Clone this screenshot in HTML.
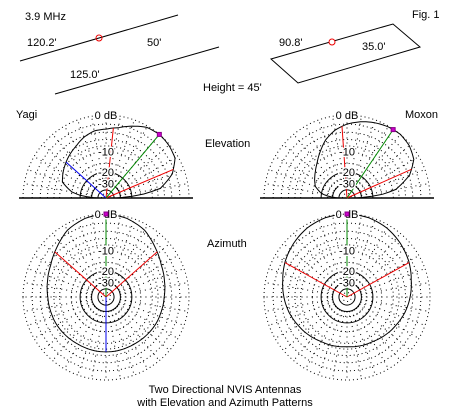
<!DOCTYPE html>
<html><head><meta charset="utf-8"><style>
body{margin:0;background:#fff}
svg{display:block;font-family:"Liberation Sans",Arial,sans-serif;font-size:11px}
</style></head><body>
<svg id="fig" width="450" height="420" viewBox="0 0 450 420">
<g stroke="#000" fill="none" stroke-width="1">
<line x1="20" y1="61" x2="178" y2="15"/>
<line x1="55" y1="94" x2="219" y2="47"/>
<circle cx="99" cy="38" r="3" stroke="#e00"/>
<polygon points="271,59 393,24 420,47 298,83"/>
<circle cx="332" cy="42" r="3" stroke="#e00" fill="#fff"/>
</g>
<g fill="#000">
<text x="25" y="20">3.9 MHz</text>
<text x="27" y="46">120.2'</text>
<text x="147" y="46">50'</text>
<text x="70" y="78">125.0'</text>
<text x="203" y="91">Height = 45'</text>
<text x="279" y="46">90.8'</text>
<text x="362" y="50">35.0'</text>
<text x="412" y="18">Fig. 1</text>
<text x="16" y="118">Yagi</text>
<text x="405" y="118">Moxon</text>
<text x="205" y="147">Elevation</text>
<text x="207" y="247">Azimuth</text>
<text x="225" y="393" text-anchor="middle">Two Directional NVIS Antennas</text>
<text x="225" y="406" text-anchor="middle">with Elevation and Azimuth Patterns</text>
</g>
</svg>
<script>
// Elevation angles (deg above horizon) and gains (dB)
const elevAngles = [0,5,10,20,30,40,50,60,70,80,90,100,110,120,130,140,150,160,170,175,180];
const yagiElevDb = [-36,-15,-7,-2.8,-0.7,-0.2,0,-0.3,-1.4,-2.6,-3.2,-3.4,-4.3,-5.6,-6.6,-7.7,-8.8,-10,-15,-21,-40];
const moxonElevDb = [-39.5,-15.7,-8.8,-3.8,-1.25,-0.35,0,-0.17,-0.6,-1.2,-2.0,-3.2,-5.0,-7.5,-10.0,-12.0,-13.7,-15.5,-20,-26,-39.5];
// Azimuth angles (deg from forward, symmetric) and gains (dB)
const azAngles = [0,15,30,45,60,75,90,105,120,135,150,165,180];
const yagiAzDb = [0,-0.35,-1.25,-3.0,-4.5,-5.4,-6.1,-6.4,-6.6,-6.9,-7.1,-7.1,-7.1];
const moxonAzDb = [0,-0.17,-0.7,-1.6,-2.6,-3.8,-4.7,-5.6,-6.6,-7.4,-8.2,-8.5,-8.8];
// Beam markers: max angle, half-power angles, rear angle
const yagiElevMarks = [50,84,23,138];
const moxonElevMarks = [56,94,24];
const yagiAzMarks = [0,48.6,180];
const moxonAzMarks = [0,61];
const ringLabels = ["0 dB","-10","-20","-30"];
const ringDb = [0,-10,-20,-30];

const NS="http://www.w3.org/2000/svg";
const svg=document.getElementById('fig');
const R=83;
function rad(db){return R*Math.pow(0.89,-db/2);}
function mk(tag,attrs,parent){const e=document.createElementNS(NS,tag);for(const k in attrs)e.setAttribute(k,attrs[k]);(parent||svg).appendChild(e);return e;}
function interp(angles,dbs,a){
  for(let i=0;i<angles.length-1;i++){if(a>=angles[i]&&a<=angles[i+1]){const t=(a-angles[i])/(angles[i+1]-angles[i]);return dbs[i]+t*(dbs[i+1]-dbs[i]);}}
  return dbs[dbs.length-1];
}
function ptE(cx,cy,a,db){const r=rad(db),t=a*Math.PI/180;return [cx+r*Math.cos(t),cy-r*Math.sin(t)];}
function ptA(cx,cy,a,db){const r=rad(db),t=a*Math.PI/180;return [cx+r*Math.sin(t),cy-r*Math.cos(t)];}

function grid(cx,cy,half,name){
  const g=mk('g',{fill:'none'});
  
  
  const dotted=[0,-2,-4,-6,-8,-10,-15,-25,-50];
  const solid=[-20,-30,-40];
  const arc=(r)=>half?`M${cx-r},${cy} A${r},${r} 0 0 1 ${cx+r},${cy}`:`M${cx-r},${cy} A${r},${r} 0 1 1 ${cx+r},${cy} A${r},${r} 0 1 1 ${cx-r},${cy}`;
  dotted.forEach(d=>{const p=mk('path',{d:arc(rad(d)),stroke:'#000','stroke-width':1,'stroke-dasharray':'1 3'},g);
    
    });
  solid.forEach(d=>{const p=mk('path',{d:arc(rad(d)),stroke:'#000','stroke-width':1},g);
    
    });
  const n=half?18:36;
  for(let i=0;i<=n;i++){const a=i*10*Math.PI/180;const r1=rad(-30),r2=R;
    const l=mk('line',{x1:cx+r1*Math.cos(a),y1:cy-r1*Math.sin(a),x2:cx+r2*Math.cos(a),y2:cy-r2*Math.sin(a),stroke:'#000','stroke-dasharray':'1 4'},g);
    
    }
  if(half){const b=mk('line',{x1:cx-R-4,y1:cy,x2:cx+R+4,y2:cy,stroke:'#000','stroke-width':1.5},g);
    
    }
}
function labels(cx,cy,name){
  ringDb.forEach((d,i)=>{const y=cy-rad(d);
    const t=mk('text',{x:cx,y:y+4,'text-anchor':'middle',fill:'#000',stroke:'#fff','stroke-width':3,'paint-order':'stroke'});
    t.textContent=ringLabels[i];
    
    });
}
function pattern(pts,name){
  const p=mk('path',{d:'M'+pts.map(q=>q[0].toFixed(1)+','+q[1].toFixed(1)).join('L'),fill:'none',stroke:'#000','stroke-width':1});
  
  
}
function ray(cx,cy,p,color,name){
  const l=mk('line',{x1:cx,y1:cy,x2:p[0],y2:p[1],stroke:color,'stroke-width':1});
  
  
}
function marker(p,name){
  const m=mk('rect',{x:p[0]-2,y:p[1]-2,width:4,height:4,fill:'#c0c',stroke:'#808'});
  
  
}
function elevPlot(cx,cy,dbs,marks,name){
  grid(cx,cy,true,name);
  const pts=[];for(let a=0;a<=180;a+=2)pts.push(ptE(cx,cy,a,interp(elevAngles,dbs,a)));
  pattern(pts,name+'-pattern');
  const pm=ptE(cx,cy,marks[0],interp(elevAngles,dbs,marks[0]));
  ray(cx,cy,ptE(cx,cy,marks[1],interp(elevAngles,dbs,marks[1])),'#e00',name+'-halfpower-line');
  ray(cx,cy,ptE(cx,cy,marks[2],interp(elevAngles,dbs,marks[2])),'#e00',name+'-halfpower-line');
  if(marks.length>3)ray(cx,cy,ptE(cx,cy,marks[3],interp(elevAngles,dbs,marks[3])),'#00e',name+'-rear-line');
  ray(cx,cy,pm,'#080',name+'-max-line');
  labels(cx,cy,name);
  marker(pm,name+'-max-marker');
}
function azPlot(cx,cy,dbs,marks,name){
  grid(cx,cy,false,name);
  const pts=[];for(let a=0;a<=360;a+=3){const b=a>180?360-a:a;pts.push(ptA(cx,cy,a,interp(azAngles,dbs,b)));}
  pattern(pts,name+'-pattern');
  ray(cx,cy,ptA(cx,cy,-marks[1],interp(azAngles,dbs,marks[1])),'#e00',name+'-halfpower-line');
  ray(cx,cy,ptA(cx,cy,marks[1],interp(azAngles,dbs,marks[1])),'#e00',name+'-halfpower-line');
  if(marks.length>2)ray(cx,cy,ptA(cx,cy,marks[2],interp(azAngles,dbs,marks[2])),'#00e',name+'-rear-line');
  const pm=ptA(cx,cy,marks[0],interp(azAngles,dbs,marks[0]));
  ray(cx,cy,pm,'#080',name+'-max-line');
  labels(cx,cy,name);
  marker(pm,name+'-max-marker');
}
elevPlot(106,198,yagiElevDb,yagiElevMarks,'yagi-elevation');
elevPlot(347,198,moxonElevDb,moxonElevMarks,'moxon-elevation');
azPlot(106,297,yagiAzDb,yagiAzMarks,'yagi-azimuth');
azPlot(347,297,moxonAzDb,moxonAzMarks,'moxon-azimuth');
</script>
</body></html>
